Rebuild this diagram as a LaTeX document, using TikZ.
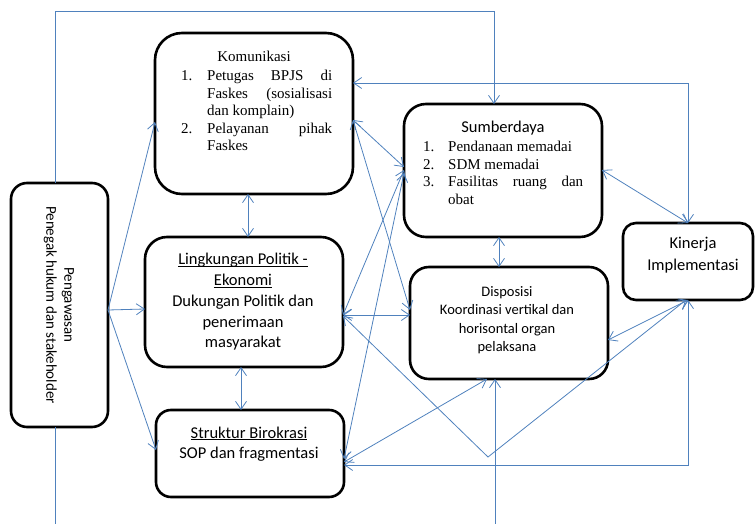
\documentclass[tikz,border=0pt]{standalone}
\usepackage{fontspec}
\setmainfont{Liberation Serif}
\newfontfamily\calibfont{Carlito}
\usetikzlibrary{arrows.meta,calc}
\definecolor{linkblue}{RGB}{79,129,189}
% underline at a fixed depth below the baseline
\newcommand\uln[1]{\setbox0\hbox{#1}\rlap{\rule[-2pt]{\wd0}{0.8pt}}\box0}

\begin{document}
\begin{tikzpicture}[x=1pt,y=-1pt,
  box/.style={draw=black, line width=2.6pt, fill=white, anchor=north west,
              inner sep=0pt, outer sep=0pt},
  link/.style={draw=linkblue, line width=0.8pt},
  >={Straight Barb[length=8pt,width=11pt]},
  serif/.style={font=\fontsize{15}{17.5}\selectfont, inner sep=0pt},
  sans/.style={font=\calibfont\fontsize{16.5}{20}\selectfont, inner sep=0pt},
  smallsans/.style={font=\calibfont\fontsize{14.5}{18}\selectfont, inner sep=0pt}]

\useasboundingbox (0,0) rectangle (756,524);

% ---------- boxes ----------
\node[box, minimum width=97pt,  minimum height=244pt, rounded corners=16pt] (P)  at (11,183)  {};
\node[box, minimum width=198pt, minimum height=161pt, rounded corners=27pt] (K)  at (155,33)  {};
\node[box, minimum width=198pt, minimum height=130pt, rounded corners=22pt] (L)  at (145,237) {};
\node[box, minimum width=188pt, minimum height=87pt,  rounded corners=15pt] (S)  at (156,410) {};
\node[box, minimum width=198pt, minimum height=133pt, rounded corners=22pt] (SD) at (404,104) {};
\node[box, minimum width=198pt, minimum height=112pt, rounded corners=19pt] (D)  at (410,267) {};
\node[box, minimum width=130pt, minimum height=77pt,  rounded corners=13pt] (KI) at (623,223) {};

% ---------- texts ----------
% Pengawasan
\node[font=\calibfont\fontsize{15}{18}\selectfont, inner sep=0pt, align=center, rotate=-90]
  (ptxt) at (59,305) {Pengawasan\\Penegak hukum dan stakeholder};

% Komunikasi
\node[serif, anchor=base] (k0) at (254,62) {Komunikasi};
\node[serif, anchor=base west] (k1n) at (181,81)    {1.};
\node[serif, anchor=base west] (k1a) at (207,81)    {\hbox to 125pt{Petugas\hfill BPJS\hfill di}};
\node[serif, anchor=base west] (k1b) at (207,98.5)  {\hbox to 125pt{Faskes\hfill (sosialisasi}};
\node[serif, anchor=base west] (k1c) at (207,116)   {dan komplain)};
\node[serif, anchor=base west] (k2n) at (181,133.5) {2.};
\node[serif, anchor=base west] (k2a) at (207,133.5) {\hbox to 125pt{Pelayanan\hfill pihak}};
\node[serif, anchor=base west] (k2b) at (207,151)   {Faskes};

% Lingkungan Politik - Ekonomi
\node[sans, anchor=base] (l1) at (243,265)   {\uln{Lingkungan Politik -}};
\node[sans, anchor=base] (l2) at (243,286)   {\uln{Ekonomi}};
\node[sans, anchor=base] (l3) at (243,306.5) {Dukungan Politik dan};
\node[sans, anchor=base] (l4) at (243,327)   {penerimaan};
\node[sans, anchor=base] (l5) at (243,347.5) {masyarakat};

% Struktur Birokrasi
\node[sans, anchor=base] (s1) at (249,438) {\uln{Struktur Birokrasi}};
\node[sans, anchor=base] (s2) at (249,458) {SOP dan fragmentasi};

% Sumberdaya
\node[sans, anchor=base] (r0) at (503,133) {Sumberdaya};
\node[serif, anchor=base west] (r1n) at (423,152)   {1.};
\node[serif, anchor=base west] (r1)  at (448,152)   {Pendanaan memadai};
\node[serif, anchor=base west] (r2n) at (423,169.5) {2.};
\node[serif, anchor=base west] (r2)  at (448,169.5) {SDM memadai};
\node[serif, anchor=base west] (r3n) at (423,187)   {3.};
\node[serif, anchor=base west] (r3)  at (448,187)   {\hbox to 135pt{Fasilitas\hfill ruang\hfill dan}};
\node[serif, anchor=base west] (r3b) at (448,204.5) {obat};

% Disposisi
\node[smallsans, anchor=base] (d1) at (507,296)   {Disposisi};
\node[smallsans, anchor=base] (d2) at (507,314.5) {Koordinasi vertikal dan};
\node[smallsans, anchor=base] (d3) at (507,333)   {horisontal organ};
\node[smallsans, anchor=base] (d4) at (507,351.5) {pelaksana};

% Kinerja Implementasi
\node[sans, anchor=base] (ki1) at (693,248) {Kinerja};
\node[sans, anchor=base] (ki2) at (693,271) {Implementasi};

% ---------- routing points ----------
\coordinate (topL) at (55,11);
\coordinate (topR) at (494,11);
\coordinate (botP) at (55,524);
\coordinate (botD) at (495,524);
\coordinate (rTop) at (688,83);
\coordinate (rBot) at (688,465);
\coordinate (vdip) at (488,457);

% ---------- connectors ----------
\draw[link,->] ($(P.north west)+(44,0)$) -- (topL) -- (topR) -- ($(SD.north west)+(90,0)$);
\draw[link] ($(P.south west)+(44,0)$) -- (botP);
\draw[link,->] (botD) -- ($(D.south west)+(85,0)$);
\draw[link,<->] ($(K.north east)+(0,50)$) -- (rTop) -- ($(KI.north west)+(65,0)$);
\draw[link,<->] ($(SD.north east)+(0,66)$) -- ($(KI.north west)+(65,0)$);
\draw[link,<->] ($(SD.south west)+(95,0)$) -- ($(D.north west)+(89,0)$);
\draw[link,<->] ($(D.north east)+(0,73)$) -- ($(KI.south west)+(65,0)$);
\draw[link,<->] ($(S.north east)+(0,55)$) -- (rBot) -- ($(KI.south west)+(65,0)$);
\draw[link,<->] ($(L.north east)+(0,79)$) -- (vdip) -- ($(KI.south west)+(63,0)$);
\draw[link,<->] ($(D.south west)+(77,0)$) -- ($(S.north east)+(0,52)$);
\draw[link,<->] ($(K.north east)+(0,87)$) -- ($(SD.north west)+(0,63)$);
\draw[link,<->] ($(K.north east)+(0,87)$) -- ($(D.north west)+(0,43)$);
\draw[link,<->] ($(L.north east)+(0,78)$) -- ($(D.north west)+(0,48)$);
\draw[link,<->] ($(L.north east)+(0,78)$) -- ($(SD.north west)+(0,66)$);
\draw[link,<->] ($(S.north east)+(0,49)$) -- ($(SD.north west)+(0,69)$);
\draw[link,->] ($(P.north east)+(0,127)$) -- ($(K.north west)+(0,89)$);
\draw[link,->] ($(P.north east)+(0,127)$) -- ($(L.north west)+(0,72)$);
\draw[link,->] ($(P.north east)+(0,127)$) -- ($(S.north west)+(0,40)$);
\draw[link,<->] ($(K.south west)+(93,0)$) -- ($(L.north west)+(103,0)$);
\draw[link,<->] ($(L.south west)+(96,0)$) -- ($(S.north west)+(85,0)$);

\end{tikzpicture}
\end{document}
